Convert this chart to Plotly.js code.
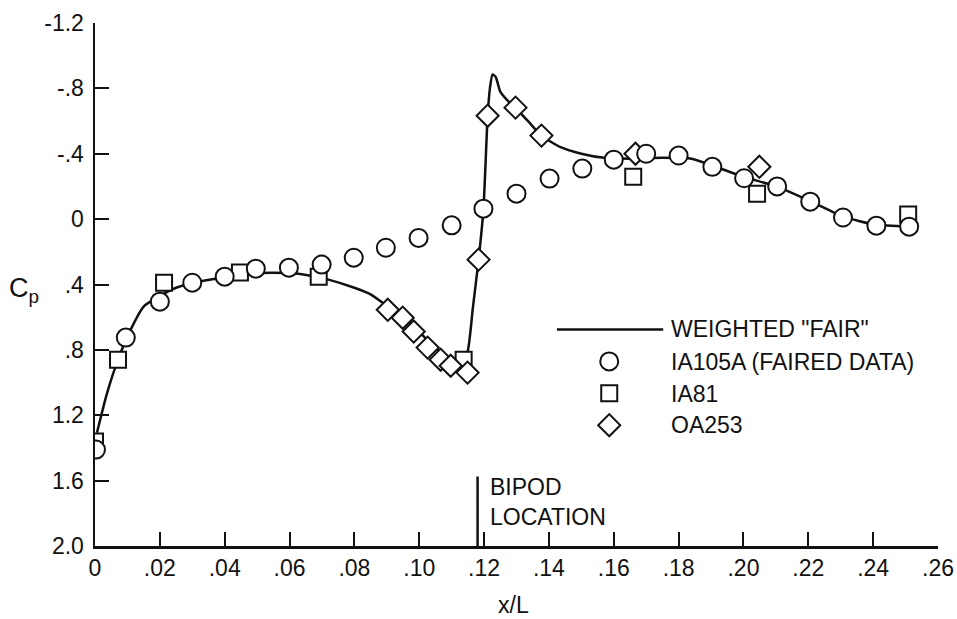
<!DOCTYPE html>
<html>
<head>
<meta charset="utf-8">
<script src="https://cdn.plot.ly/plotly-3.0.1.min.js"></script>
<style>html,body{margin:0;padding:0;background:#fff;}#chart{width:957px;height:619px;}</style>
</head>
<body>
<div id="chart"></div>
<script>
// ---- Data ----
const fairX = [0.0006, 0.0035, 0.0071, 0.011, 0.015, 0.020, 0.025, 0.030, 0.040, 0.050, 0.060, 0.066, 0.072, 0.080, 0.085, 0.090, 0.095, 0.100, 0.105, 0.109, 0.1125, 0.1149, 0.1165, 0.1183, 0.1198, 0.1211, 0.1218, 0.1226, 0.1236, 0.125, 0.1275, 0.1297, 0.134, 0.1377, 0.1436, 0.150, 0.157, 0.165, 0.175, 0.184, 0.190, 0.200, 0.210, 0.2206, 0.2307, 0.241, 0.251];
const fairCp = [1.307, 1.08, 0.86, 0.676, 0.535, 0.47, 0.42, 0.39, 0.355, 0.33, 0.33, 0.345, 0.37, 0.42, 0.46, 0.53, 0.60, 0.69, 0.79, 0.85, 0.875, 0.81, 0.55, 0.25, -0.06, -0.63, -0.80, -0.885, -0.87, -0.78, -0.72, -0.68, -0.59, -0.51, -0.44, -0.40, -0.375, -0.37, -0.375, -0.37, -0.33, -0.26, -0.20, -0.11, -0.015, 0.035, 0.045];

const ia105aX = [0.0003, 0.0095, 0.020, 0.030, 0.040, 0.0496, 0.0598, 0.0699, 0.0798, 0.0897, 0.0998, 0.110, 0.1198, 0.130, 0.1402, 0.1503, 0.160, 0.170, 0.180, 0.1904, 0.2002, 0.2104, 0.2206, 0.2307, 0.241, 0.2511];
const ia105aCp = [1.41, 0.725, 0.505, 0.389, 0.352, 0.303, 0.297, 0.278, 0.236, 0.175, 0.115, 0.038, -0.064, -0.156, -0.248, -0.309, -0.364, -0.40, -0.389, -0.32, -0.25, -0.20, -0.107, -0.01, 0.04, 0.046];

const ia81X = [0.0, 0.0071, 0.0213, 0.0447, 0.069, 0.1137, 0.166, 0.2042, 0.2508];
const ia81Cp = [1.36, 0.86, 0.389, 0.327, 0.352, 0.86, -0.26, -0.156, -0.028];

const oa253X = [0.0903, 0.0949, 0.0983, 0.1026, 0.1066, 0.1097, 0.1149, 0.1183, 0.1211, 0.1297, 0.1377, 0.1667, 0.2049];
const oa253Cp = [0.555, 0.603, 0.688, 0.786, 0.860, 0.897, 0.939, 0.248, -0.633, -0.682, -0.511, -0.40, -0.32];

const xTickVals = [0, 0.02, 0.04, 0.06, 0.08, 0.10, 0.12, 0.14, 0.16, 0.18, 0.20, 0.22, 0.24, 0.26];
const xTickText = ["0", ".02", ".04", ".06", ".08", ".10", ".12", ".14", ".16", ".18", ".20", ".22", ".24", ".26"];
const yTickVals = [-1.2, -0.8, -0.4, 0, 0.4, 0.8, 1.2, 1.6, 2.0];
const yTickText = ["-1.2", "-.8", "-.4", "0", ".4", ".8", "1.2", "1.6", "2.0"];

const seriesNames = ['WEIGHTED "FAIR"', 'IA105A (FAIRED DATA)', 'IA81', 'OA253'];
const bipodX = 0.118;
const bipodLabel = ["BIPOD", "LOCATION"];

// ---- Styling ----
const FONT = "'Liberation Sans', Arial, sans-serif";
const INK = "#111";
const TXT = 23;
const mk = (symbol, size) => ({symbol: symbol, size: size, color: "#fff", line: {color: INK, width: 2}});
const circleM = mk("circle", 18);
const squareM = mk("square", 16);
const diamondM = mk("diamond", 17);

const traces = [
  {x: fairX, y: fairCp, mode: "lines", line: {color: INK, width: 2.5, shape: "spline", smoothing: 0.5}, hoverinfo: "skip"},
  {x: ia81X, y: ia81Cp, mode: "markers", marker: squareM},
  {x: oa253X, y: oa253Cp, mode: "markers", marker: diamondM},
  {x: ia105aX, y: ia105aCp, mode: "markers", marker: circleM},
  // legend keys on an overlay axis spanning [0,1]
  {x: [0.548, 0.674], y: [0.414, 0.414], xaxis: "x2", yaxis: "y2", mode: "lines", line: {color: INK, width: 2.5}},
  {x: [0.610], y: [0.353], xaxis: "x2", yaxis: "y2", mode: "markers", marker: circleM},
  {x: [0.610], y: [0.292], xaxis: "x2", yaxis: "y2", mode: "markers", marker: squareM},
  {x: [0.610], y: [0.231], xaxis: "x2", yaxis: "y2", mode: "markers", marker: diamondM}
];

const legendY = [0.414, 0.352, 0.291, 0.231];
const annotations = seriesNames.map((t, i) => ({
  xref: "x2", yref: "y2", x: 0.681, y: legendY[i], text: t, showarrow: false,
  xanchor: "left", yanchor: "middle", font: {family: FONT, size: TXT, color: INK}
}));
annotations.push(
  {xref: "x", yref: "paper", x: bipodX, y: 0.113, text: bipodLabel[0], showarrow: false, xanchor: "left", yanchor: "middle", xshift: 10, font: {family: FONT, size: TXT, color: INK}},
  {xref: "x", yref: "paper", x: bipodX, y: 0.055, text: bipodLabel[1], showarrow: false, xanchor: "left", yanchor: "middle", xshift: 10, font: {family: FONT, size: TXT, color: INK}},
  {xref: "paper", yref: "paper", x: 0.496, y: -0.113, text: "x/L", showarrow: false, xanchor: "center", yanchor: "middle", font: {family: FONT, size: TXT, color: INK}},
  {xref: "paper", yref: "paper", x: -0.104, y: 0.49, text: "C<sub>p</sub>", showarrow: false, xanchor: "left", yanchor: "middle", font: {family: FONT, size: 27, color: INK}}
);

const layout = {
  width: 957, height: 619,
  margin: {l: 95, r: 19, t: 23, b: 73},
  paper_bgcolor: "#fff", plot_bgcolor: "#fff",
  showlegend: false,
  font: {family: FONT, size: TXT, color: INK},
  xaxis: {
    range: [0, 0.26], tickvals: xTickVals, ticktext: xTickText,
    showline: true, linecolor: INK, linewidth: 2.5, ticks: "inside", ticklen: 14, tickwidth: 2, tickcolor: INK,
    showgrid: false, zeroline: false, tickfont: {family: FONT, size: TXT, color: INK}
  },
  yaxis: {
    range: [2.0, -1.2], tickvals: yTickVals, ticktext: yTickText,
    showline: true, linecolor: INK, linewidth: 2.5, ticks: "inside", ticklen: 14, tickwidth: 2, tickcolor: INK,
    showgrid: false, zeroline: false, ticklabelstandoff: 4, tickfont: {family: FONT, size: TXT, color: INK}
  },
  xaxis2: {range: [0, 1], overlaying: "x", visible: false, fixedrange: true},
  yaxis2: {range: [0, 1], overlaying: "y", visible: false, fixedrange: true},
  shapes: [
    {type: "line", xref: "x", yref: "y", x0: bipodX, x1: bipodX, y0: 1.575, y1: 2.0, line: {color: INK, width: 2.5}}
  ],
  annotations: annotations
};

Plotly.newPlot("chart", traces, layout, {staticPlot: true, displayModeBar: false});
</script>
</body>
</html>
